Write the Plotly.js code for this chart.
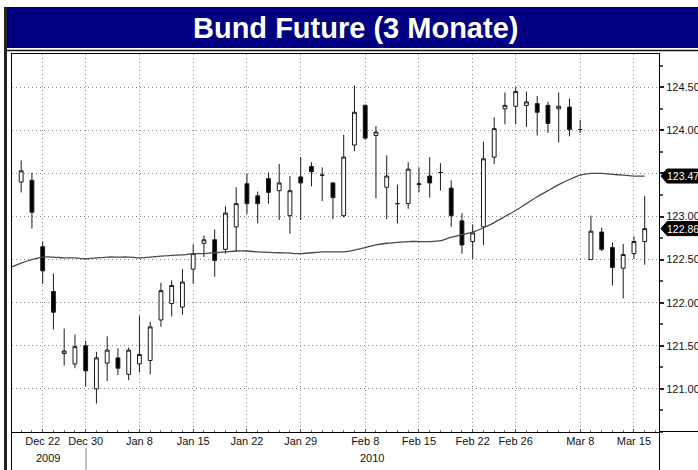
<!DOCTYPE html>
<html>
<head>
<meta charset="utf-8">
<script src="https://cdn.plot.ly/plotly-3.0.1.min.js"></script>
<style>
  html, body { margin: 0; padding: 0; background: #ffffff; }
  #chart { width: 698px; height: 470px; }
</style>
</head>
<body>
<div id="chart"></div>
<script>
// ---------- data ----------
const chartTitle = "Bund Future (3 Monate)";
const dates = ["Dec 18","Dec 21","Dec 22","Dec 23","Dec 28","Dec 29","Dec 30",
  "Jan 4","Jan 5","Jan 6","Jan 7","Jan 8","Jan 11","Jan 12","Jan 13","Jan 14","Jan 15",
  "Jan 18","Jan 19","Jan 20","Jan 21","Jan 22","Jan 25","Jan 26","Jan 27","Jan 28","Jan 29",
  "Feb 1","Feb 2","Feb 3","Feb 4","Feb 5","Feb 8","Feb 9","Feb 10","Feb 11","Feb 12",
  "Feb 15","Feb 16","Feb 17","Feb 18","Feb 19","Feb 22","Feb 23","Feb 24","Feb 25","Feb 26",
  "Mar 1","Mar 2","Mar 3","Mar 4","Mar 5","Mar 8","Mar 9","Mar 10","Mar 11","Mar 12","Mar 15","Mar 16"];
const open = [123.40,123.42,122.65,122.13,121.41,121.29,121.50,
  121.00,121.30,121.36,121.17,121.29,121.33,121.80,121.99,121.95,122.39,
  122.69,122.73,122.62,122.88,123.38,123.24,123.44,123.30,123.01,123.46,
  123.58,123.48,123.39,123.01,123.83,124.29,123.94,123.34,123.15,123.15,
  123.37,123.47,123.51,123.33,122.95,122.71,122.88,123.69,124.25,124.28,
  124.29,124.31,124.29,124.25,124.27,124.01,122.50,122.82,122.64,122.40,122.57,122.71];
const high = [123.65,123.51,122.71,122.34,121.70,121.63,121.56,
  121.43,121.61,121.47,121.48,121.85,121.78,122.23,122.26,122.39,122.68,
  122.78,122.85,123.12,123.34,123.50,123.29,123.51,123.61,123.47,123.69,
  123.63,123.57,123.40,123.95,124.52,124.30,124.05,123.71,123.37,123.63,
  123.57,123.69,123.62,123.42,123.04,122.91,123.87,124.15,124.44,124.50,
  124.45,124.40,124.33,124.44,124.37,124.12,123.01,122.87,122.70,122.68,122.77,123.24];
const low = [123.28,122.86,122.22,121.69,121.27,121.24,121.03,
  120.83,121.09,121.16,121.10,121.19,121.17,121.72,121.84,121.86,122.22,
  122.53,122.30,122.57,122.60,123.03,122.92,123.15,122.96,122.80,122.96,
  123.35,123.18,122.97,122.99,123.76,123.89,123.21,122.97,122.92,123.09,
  123.28,123.22,123.30,122.88,122.57,122.51,122.67,123.61,124.07,124.07,
  124.04,123.94,123.97,123.86,123.93,123.97,122.50,122.60,122.20,122.05,122.51,122.44];
const close = [123.53,123.05,122.37,121.89,121.44,121.49,121.21,
  121.36,121.45,121.24,121.45,121.40,121.72,122.14,122.20,122.24,122.57,
  122.73,122.49,123.04,123.15,123.15,123.15,123.28,123.39,123.30,123.39,
  123.52,123.48,123.22,123.69,124.21,123.91,123.98,123.47,123.15,123.55,
  123.38,123.39,123.51,123.01,122.67,122.81,123.67,124.02,124.29,124.45,
  124.33,124.21,124.08,124.28,124.01,124.01,122.83,122.62,122.41,122.56,122.71,122.86];
// moving average; first value belongs to the trading day before Dec 18
const movingAvg = [122.41,122.46,122.50,122.53,122.53,122.52,122.52,122.51,
  122.52,122.53,122.53,122.53,122.52,122.53,122.54,122.55,122.555,122.57,
  122.57,122.58,122.59,122.60,122.60,122.59,122.585,122.58,122.575,122.57,
  122.58,122.59,122.59,122.59,122.61,122.64,122.67,122.69,122.70,122.71,
  122.71,122.71,122.72,122.76,122.79,122.82,122.87,122.93,123.00,123.07,
  123.15,123.23,123.30,123.37,123.43,123.48,123.50,123.50,123.49,123.48,123.47,123.47];
const maLabel = "123.47";
const closeLabel = "122.86";
const tickDates = ["Dec 22","Dec 30","Jan 8","Jan 15","Jan 22","Jan 29","Feb 8","Feb 15","Feb 22","Feb 26","Mar 8","Mar 15"];
const yearLabels = ["2009","2010"];
const yTicks = [121.0,121.5,122.0,122.5,123.0,123.5,124.0,124.5];
const yTickText = ["121.00","121.50","122.00","122.50","123.00","","124.00","124.50"];

// ---------- geometry helpers (layout only) ----------
const W = 698, H = 470;
const M = {l: 12, r: 39, t: 54, b: 38};
const PW = W - M.l - M.r, PH = H - M.t - M.b;
const px = v => (v - M.l) / PW;          // pixel x -> paper x
const py = v => (H - M.b - v) / PH;      // pixel y -> paper y
const yRange = [120.50, 124.886];
const valToPaper = v => (v - yRange[0]) / (yRange[1] - yRange[0]);

const idx = dates.map((d, i) => i);
const maX = movingAvg.map((v, i) => i - 1);
const tickVals = tickDates.map(d => dates.indexOf(d));

const FONT = "Liberation Sans, Arial, sans-serif";

const traces = [
  {
    type: 'candlestick', x: idx, open: open, high: high, low: low, close: close,
    increasing: {line: {color: '#1a1a1a', width: 1}, fillcolor: '#ffffff'},
    decreasing: {line: {color: '#1a1a1a', width: 1}, fillcolor: '#000000'},
    whiskerwidth: 0, hoverinfo: 'skip', showlegend: false
  },
  {
    type: 'scatter', mode: 'lines', x: maX, y: movingAvg,
    line: {color: '#4a4a4a', width: 1.3, shape: 'spline', smoothing: 0.6},
    hoverinfo: 'skip', showlegend: false
  }
];

function lineShape(x0, y0, x1, y1, color, width) {
  return {type: 'line', xref: 'paper', yref: 'paper', x0: px(x0), y0: py(y0), x1: px(x1), y1: py(y1),
          line: {color: color, width: width}, layer: 'above'};
}
function valueTag(v) {
  const yc = valToPaper(v);
  const h = 7 / PH;
  const xt = px(661), xb = px(667), xe = px(699);
  return {type: 'path', xref: 'paper', yref: 'paper', layer: 'above',
    path: `M ${xt} ${yc} L ${xb} ${yc + h} L ${xe} ${yc + h} L ${xe} ${yc - h} L ${xb} ${yc - h} Z`,
    fillcolor: '#000000', line: {color: '#000000', width: 1}};
}

const shapes = [
  {type: 'rect', xref: 'paper', yref: 'paper', x0: px(5), x1: px(699), y0: py(48), y1: py(7),
   fillcolor: '#000080', line: {width: 0}, layer: 'below'},
  lineShape(5.5, 7, 5.5, 470, '#222222', 3),
  lineShape(5, 50.5, 699, 50.5, '#111111', 1.5),
  lineShape(11.5, 432, 11.5, 470, '#000000', 1),
  lineShape(659.5, 432, 659.5, 470, '#000000', 1),
  lineShape(659, 431.5, 699, 431.5, '#000000', 1),
  lineShape(86, 448, 86, 470, '#888888', 1),
  valueTag(parseFloat(maLabel)),
  valueTag(parseFloat(closeLabel))
];

const annotations = [
  {text: '<b>' + chartTitle + '</b>', xref: 'paper', yref: 'paper', x: px(355), y: py(28),
   xanchor: 'center', yanchor: 'middle', showarrow: false,
   font: {family: 'Liberation Sans, Arial, sans-serif', size: 29, color: '#ffffff'}},
  {text: maLabel, xref: 'paper', yref: 'paper', x: px(666), y: valToPaper(parseFloat(maLabel)),
   xanchor: 'left', yanchor: 'middle', showarrow: false, borderpad: 0,
   font: {family: FONT, size: 10.5, color: '#ffffff'}},
  {text: closeLabel, xref: 'paper', yref: 'paper', x: px(666), y: valToPaper(parseFloat(closeLabel)),
   xanchor: 'left', yanchor: 'middle', showarrow: false, borderpad: 0,
   font: {family: FONT, size: 10.5, color: '#ffffff'}},
  {text: yearLabels[0], xref: 'paper', yref: 'paper', x: px(48), y: py(458),
   xanchor: 'center', yanchor: 'middle', showarrow: false,
   font: {family: FONT, size: 11, color: '#111111'}},
  {text: yearLabels[1], xref: 'paper', yref: 'paper', x: px(372), y: py(458),
   xanchor: 'center', yanchor: 'middle', showarrow: false,
   font: {family: FONT, size: 11, color: '#111111'}}
];

const layout = {
  width: W, height: H, margin: M,
  paper_bgcolor: '#ffffff', plot_bgcolor: '#ffffff',
  showlegend: false, boxgap: 0.49,
  font: {family: FONT, size: 11, color: '#111111'},
  xaxis: {
    type: 'linear', range: [-0.854, 59.33], rangeslider: {visible: false},
    tickmode: 'array', tickvals: tickVals, ticktext: tickDates,
    showgrid: true, gridcolor: '#8a8a8a', griddash: '1px,3px', gridwidth: 1,
    showline: true, linecolor: '#000000', linewidth: 1, mirror: true,
    ticks: 'inside', ticklen: 3, tickcolor: '#555555', ticklabelstandoff: -1,
    minor: {dtick: 1, tick0: 0, ticks: 'inside', ticklen: 2, tickcolor: '#777777', showgrid: false},
    tickfont: {family: FONT, size: 11, color: '#111111'},
    zeroline: false, fixedrange: true
  },
  yaxis: {
    side: 'right', range: yRange,
    tickmode: 'array', tickvals: yTicks, ticktext: yTickText,
    showgrid: true, gridcolor: '#8a8a8a', griddash: '1px,3px', gridwidth: 1,
    showline: true, linecolor: '#000000', linewidth: 1, mirror: true,
    ticks: 'outside', ticklen: 4, tickwidth: 2, tickcolor: '#222222',
    minor: {dtick: 0.25, tick0: 0, ticks: 'outside', ticklen: 3, tickcolor: '#555555', showgrid: false},
    tickfont: {family: FONT, size: 11, color: '#111111'},
    zeroline: false, fixedrange: true
  },
  shapes: shapes,
  annotations: annotations
};

Plotly.newPlot('chart', traces, layout, {staticPlot: true, displayModeBar: false});
</script>
</body>
</html>
